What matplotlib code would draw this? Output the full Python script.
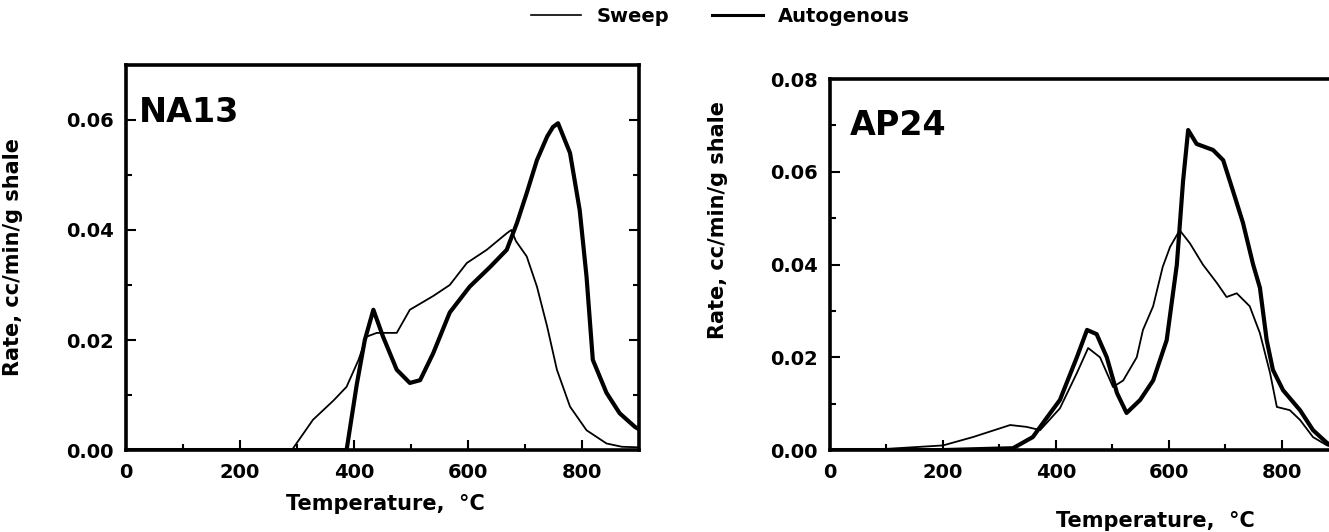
#!/usr/bin/env python3
"""
Gas evolution rate vs. temperature for two shales (NA13, AP24),
sweep vs. autogenous atmosphere. Writes out.png.
"""
import matplotlib
matplotlib.use("Agg")
import matplotlib.pyplot as plt
from matplotlib.lines import Line2D
from matplotlib.ticker import MultipleLocator

# --- NA13 -----------------------------------------------------------------
na13_sweep_t = [0, 291, 328, 364, 387, 408, 422, 440, 475, 498, 539, 568, 598,
                633, 668, 676, 684, 703, 721, 739, 756, 779, 808, 843, 870, 900]
na13_sweep_r = [0, 0, 0.0055, 0.009, 0.0115, 0.0164, 0.0206, 0.0213, 0.0213,
                0.0255, 0.028, 0.030, 0.034, 0.0364, 0.0394, 0.040, 0.038,
                0.0352, 0.0297, 0.0224, 0.0146, 0.0079, 0.0036, 0.0012,
                0.0006, 0.0005]

na13_auto_t = [0, 387, 405, 419, 434, 451, 475, 498, 516, 539, 568, 603, 639,
               668, 686, 703, 721, 739, 749, 758, 779, 796, 808, 819, 843, 866,
               893, 900]
na13_auto_r = [0, 0, 0.012, 0.020, 0.0255, 0.0206, 0.0146, 0.0122, 0.0127,
               0.0176, 0.025, 0.0297, 0.0333, 0.0364, 0.0413, 0.0467, 0.0527,
               0.057, 0.0587, 0.0594, 0.054, 0.0436, 0.0315, 0.0164, 0.0104,
               0.0067, 0.0042, 0.0038]

# --- AP24 -----------------------------------------------------------------
ap24_sweep_t = [0, 65, 200, 253, 319, 348, 372, 407, 437, 457, 478, 501, 519,
                543, 554, 572, 589, 602, 619, 637, 660, 685, 702, 720, 743,
                761, 779, 791, 814, 832, 855, 880, 900]
ap24_sweep_r = [0, 0, 0.001, 0.0028, 0.0054, 0.005, 0.0043, 0.009, 0.0166,
                0.022, 0.020, 0.0136, 0.015, 0.020, 0.0259, 0.031, 0.0395,
                0.0438, 0.0474, 0.0446, 0.040, 0.036, 0.033, 0.0338, 0.031,
                0.0252, 0.0166, 0.0093, 0.0086, 0.0065, 0.0028, 0.001, 0.0003]

ap24_auto_t = [0, 200, 324, 359, 384, 407, 437, 455, 472, 490, 508, 525, 549,
               572, 596, 614, 625, 634, 649, 678, 696, 713, 731, 749, 761,
               773, 784, 802, 832, 855, 880, 900]
ap24_auto_r = [0, 0, 0.0004, 0.0028, 0.007, 0.0108, 0.020, 0.0259, 0.025,
               0.020, 0.0123, 0.008, 0.0108, 0.015, 0.0237, 0.040, 0.058,
               0.069, 0.066, 0.0647, 0.0625, 0.056, 0.049, 0.040, 0.035,
               0.0237, 0.0173, 0.0129, 0.0086, 0.0043, 0.0015, 0.0005]

X_TICKS = [0, 200, 400, 600, 800]
LW_THIN = 1.3
LW_THICK = 3.0
FS_TICK = 14
FS_LABEL = 15

plt.rcParams["font.family"] = ["DejaVu Sans"]
plt.rcParams["font.weight"] = "bold"

fig = plt.figure(figsize=(13.29, 5.32), dpi=100)
ax1 = fig.add_axes([0.0948, 0.154, 0.3860, 0.724])
ax2 = fig.add_axes([0.6245, 0.154, 0.3826, 0.6975])


def style(ax, ymax, yticks, title, title_xy, ylab_y, xlab_x, xlab_y, right):
    ax.set_xlim(0, 900)
    ax.set_ylim(0, ymax)
    ax.set_xticks(X_TICKS)
    ax.set_yticks(yticks)
    ax.set_yticklabels([f"{v:.2f}" for v in yticks])
    ax.xaxis.set_minor_locator(MultipleLocator(100))
    ax.yaxis.set_minor_locator(MultipleLocator(0.01))
    ax.tick_params(which="both", direction="in", right=right,
                   labelsize=FS_TICK, pad=9, width=1.5)
    ax.tick_params(which="major", length=7)
    ax.tick_params(which="minor", length=4)
    for lab in ax.get_xticklabels() + ax.get_yticklabels():
        lab.set_fontweight("bold")
    for sp in ax.spines.values():
        sp.set_linewidth(2.6)
    ax.set_ylabel("Rate, cc/min/g shale", fontsize=FS_LABEL, fontweight="bold")
    ax.yaxis.set_label_coords(-0.2, ylab_y)
    ax.set_xlabel("Temperature,  \u00b0C", fontsize=FS_LABEL, fontweight="bold")
    ax.xaxis.set_label_coords(xlab_x, xlab_y)
    ax.text(title_xy[0], title_xy[1], title, transform=ax.transAxes,
            fontsize=24, fontweight="bold", va="top", ha="left")


ax1.plot(na13_sweep_t, na13_sweep_r, color="black", lw=LW_THIN)
ax1.plot(na13_auto_t, na13_auto_r, color="black", lw=LW_THICK)
style(ax1, 0.07, [0.0, 0.02, 0.04, 0.06], "NA13", (0.025, 0.92),
      0.5, 0.505, -0.115, True)

ax2.plot(ap24_sweep_t, ap24_sweep_r, color="black", lw=LW_THIN)
ax2.plot(ap24_auto_t, ap24_auto_r, color="black", lw=LW_THICK)
style(ax2, 0.08, [0.0, 0.02, 0.04, 0.06, 0.08], "AP24", (0.04, 0.92),
      0.62, 0.64, -0.165, False)

handles = [Line2D([], [], color="black", lw=1.2),
           Line2D([], [], color="black", lw=2.2)]
fig.legend(handles, ["Sweep", "Autogenous"], loc="upper center",
           bbox_to_anchor=(0.542, 1.02), ncol=2, frameon=False,
           handlelength=2.6, columnspacing=2.2,
           prop={"size": 14, "weight": "bold"})

fig.savefig("out.png", dpi=100)
